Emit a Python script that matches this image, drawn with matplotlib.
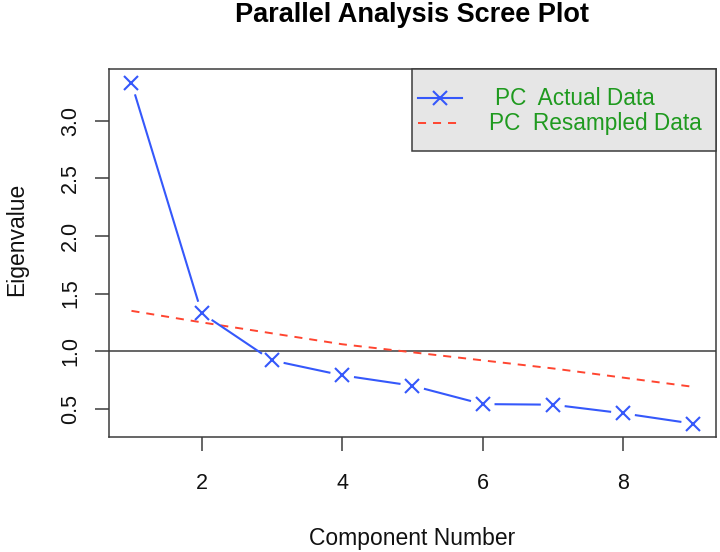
import numpy as np
import matplotlib
matplotlib.use('Agg')
import matplotlib.pyplot as plt
from matplotlib.patches import Rectangle
from matplotlib.lines import Line2D

plt.rcParams['font.family'] = ['Liberation Sans', 'DejaVu Sans']

# data
components = [1, 2, 3, 4, 5, 6, 7, 8, 9]
actual     = [3.33, 1.33, 0.92, 0.79, 0.70, 0.54, 0.535, 0.46, 0.37]
resampled  = [1.35, 1.25, 1.155, 1.06, 0.99, 0.92, 0.85, 0.77, 0.69]
x_ticks    = [2, 4, 6, 8]
y_ticks    = [0.5, 1.0, 1.5, 2.0, 2.5, 3.0]
labels     = ['PC  Actual Data', 'PC  Resampled Data']

BLUE  = '#3558fb'
RED   = '#ff4530'
GREEN = '#1f9a1f'
DARK  = '#3c3c3c'

fig = plt.figure(figsize=(7.2, 5.52), dpi=100, facecolor='white')
W, H = 720, 552
# plot box (px): left 109, right 716, top 69, bottom 437
ax = fig.add_axes([109 / W, 1 - 437.3 / H, (715.7 - 109) / W, (437.3 - 69.3) / H])

# R style 4% padding
xr = max(components) - min(components)
yl, yh = min(actual + resampled), max(actual + resampled)
ax.set_xlim(min(components) - 0.04 * xr, max(components) + 0.04 * xr)
ax.set_ylim(yl - 0.04 * (yh - yl), yh + 0.04 * (yh - yl))

# reference line at eigenvalue 1
ax.axhline(1.0, color=DARK, lw=1.1, zorder=1)

# resampled (dashed)
ax.plot(components, resampled, color=RED, lw=1.4,
        linestyle=(0, (5.8 / 1.4, 5.0 / 1.4)), zorder=2)

# actual: type="b" -> markers with gaps in the connecting line
ax.plot(components, actual, linestyle='none', marker='x', ms=9.5,
        mew=1.5, color=BLUE, zorder=3)
fig.canvas.draw()
pts = ax.transData.transform(np.column_stack([components, actual]))
gap = 13 * fig.dpi / 100
inv = ax.transData.inverted()
for p0, p1 in zip(pts[:-1], pts[1:]):
    d = p1 - p0
    n = np.hypot(*d)
    if n <= 2 * gap:
        continue
    u = d / n
    seg = inv.transform(np.array([p0 + u * gap, p1 - u * gap]))
    ax.plot(seg[:, 0], seg[:, 1], color=BLUE, lw=1.5, zorder=3)

# axes styling
for s in ax.spines.values():
    s.set_color(DARK)
    s.set_linewidth(1.1)
ax.set_xticks(x_ticks)
ax.set_xticklabels([str(t) for t in x_ticks])
ax.set_yticks(y_ticks)
ax.set_yticklabels([f'{t:.1f}' for t in y_ticks], rotation=90, va='center')
ax.tick_params(axis='both', length=10, width=1.1, color=DARK,
               labelsize=15.5, labelcolor='#111111')
ax.tick_params(axis='x', pad=16)
ax.tick_params(axis='y', pad=10)

ax.set_xlabel('Component Number', fontsize=16.5, color='#111111')
ax.xaxis.label.set_va('baseline')
ax.xaxis.set_label_coords(0.5, -0.2927)
ax.set_ylabel('Eigenvalue', fontsize=16.5, color='#111111')
ax.yaxis.label.set_va('baseline')
ax.yaxis.set_label_coords(-0.1418, 0.5375)

fig.text((109 + 715.7) / 2 / W, 1 - 22 / H, 'Parallel Analysis Scree Plot',
         ha='center', va='baseline', fontsize=19.5, fontweight='bold')

# legend box (R style, top-right corner of plot)
ax.add_patch(Rectangle((0.4994, 0.778), 0.5006, 0.222, transform=ax.transAxes,
                       facecolor='#e6e6e6', edgecolor=DARK, lw=1.1,
                       zorder=5, clip_on=False))
ax.add_line(Line2D([0.509, 0.582], [0.922, 0.922], transform=ax.transAxes,
                   color=BLUE, lw=1.5, zorder=6))
ax.add_line(Line2D([0.5455], [0.922], transform=ax.transAxes, marker='x',
                   ms=9.5, mew=1.5, color=BLUE, zorder=6))
ax.add_line(Line2D([0.509, 0.582], [0.854, 0.854], transform=ax.transAxes,
                   color=RED, lw=1.4, linestyle=(0, (5.8 / 1.4, 5.0 / 1.4)),
                   zorder=6))
ax.text(0.636, 0.922, labels[0], transform=ax.transAxes, color=GREEN,
        fontsize=16.3, va='center', ha='left', zorder=7)
ax.text(0.6264, 0.854, labels[1], transform=ax.transAxes, color=GREEN,
        fontsize=16.3, va='center', ha='left', zorder=7)

fig.savefig('out.png', dpi=100, facecolor='white')
